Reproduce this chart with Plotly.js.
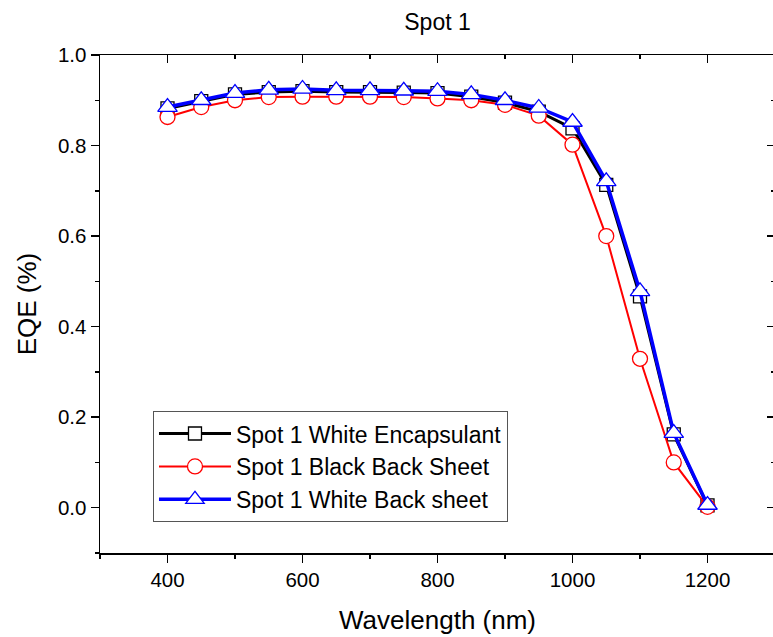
<!DOCTYPE html>
<html>
<head>
<meta charset="utf-8">
<script src="https://cdn.plot.ly/plotly-3.0.1.min.js"></script>
<style>
html,body{margin:0;padding:0;overflow:hidden;background:#fff;}
#chart{width:780px;height:637px;}
</style>
</head>
<body>
<div id="chart"></div>
<script>
const wavelength = [400,450,500,550,600,650,700,750,800,850,900,950,1000,1050,1100,1150,1200];
const whiteEncapsulant = [0.882,0.898,0.913,0.918,0.920,0.918,0.918,0.917,0.916,0.908,0.895,0.875,0.838,0.713,0.467,0.162,0.005];
const blackBackSheet   = [0.863,0.885,0.900,0.907,0.908,0.908,0.908,0.907,0.904,0.900,0.890,0.866,0.802,0.600,0.329,0.100,0.002];
const whiteBackSheet   = [0.885,0.900,0.916,0.923,0.925,0.922,0.922,0.921,0.920,0.913,0.900,0.883,0.852,0.721,0.478,0.165,0.006];
const seriesNames = ['Spot 1 White Encapsulant','Spot 1 Black Back Sheet','Spot 1 White Back sheet'];
const xTicks = [400,600,800,1000,1200];
const yTicks = [0.0,0.2,0.4,0.6,0.8,1.0];
const yTickText = ['0.0','0.2','0.4','0.6','0.8','1.0'];

const font = 'Arial, "Liberation Sans", sans-serif';

const traces = [
  {x: wavelength, y: whiteEncapsulant, name: seriesNames[0], type:'scatter', mode:'lines+markers',
   line:{color:'#000000', width:3}, marker:{symbol:'square', size:13, color:'#ffffff', line:{color:'#000000', width:1.3}}},
  {x: wavelength, y: blackBackSheet, name: seriesNames[1], type:'scatter', mode:'lines+markers',
   line:{color:'#ff0000', width:2}, marker:{symbol:'circle', size:15, color:'#ffffff', line:{color:'#ff0000', width:1.3}}},
  {x: wavelength, y: whiteBackSheet, name: seriesNames[2], type:'scatter', mode:'lines+markers',
   line:{color:'#0000ff', width:3.5}, marker:{symbol:'triangle-up', size:17, color:'#ffffff', line:{color:'#0000ff', width:1.3}}},
  {x: wavelength, y: whiteEncapsulant, xaxis:'x2', yaxis:'y2', type:'scatter', mode:'lines',
   opacity:0, showlegend:false, hoverinfo:'skip'}
];

const common = {showgrid:false, zeroline:false, showline:true, linecolor:'#000', linewidth:1.5, tickcolor:'#000', tickwidth:1.5};

const layout = {
  width:780, height:637,
  margin:{l:100, r:5, t:55, b:84},
  paper_bgcolor:'#fff', plot_bgcolor:'#fff',
  font:{family:font, color:'#000'},
  title:{text:'Spot 1', font:{size:23, family:font, color:'#000'}, x:0.5, xanchor:'center', xref:'paper', y:0.965, yanchor:'middle'},
  xaxis: Object.assign({}, common, {
    range:[300,1300], tickmode:'array', tickvals:xTicks, ticks:'outside', ticklen:8,
    minor:{dtick:100, tick0:300, ticks:'outside', ticklen:4, tickwidth:1.5, tickcolor:'#000'},
    tickfont:{size:20.5, family:font},
    title:{text:'Wavelength (nm)', font:{size:26, family:font}, standoff:20}
  }),
  yaxis: Object.assign({}, common, {
    range:[-0.1,1.0], tickmode:'array', tickvals:yTicks, ticktext:yTickText, ticks:'outside', ticklen:8,
    minor:{dtick:0.1, tick0:-0.1, ticks:'outside', ticklen:4, tickwidth:1.5, tickcolor:'#000'},
    tickfont:{size:20.5, family:font},
    title:{text:'EQE (%)', font:{size:26, family:font}, standoff:14}
  }),
  xaxis2: Object.assign({}, common, {
    overlaying:'x', side:'top', anchor:'y2', range:[300,1300], tickmode:'array', tickvals:xTicks,
    ticks:'inside', ticklen:8, showticklabels:false,
    minor:{dtick:100, tick0:300, ticks:'inside', ticklen:4, tickwidth:1.5, tickcolor:'#000'}
  }),
  yaxis2: Object.assign({}, common, {
    overlaying:'y', side:'right', anchor:'x2', range:[-0.1,1.0], tickmode:'array', tickvals:yTicks,
    ticks:'inside', ticklen:8, showticklabels:false,
    minor:{dtick:0.1, tick0:-0.1, ticks:'inside', ticklen:4, tickwidth:1.5, tickcolor:'#000'}
  }),
  legend:{x:0.0785, y:0.285, xanchor:'left', yanchor:'top', bgcolor:'#fff', bordercolor:'#555', borderwidth:1,
    font:{size:23, family:font, color:'#000'}, tracegroupgap:0, itemwidth:72},
  showlegend:true
};

Plotly.newPlot('chart', traces, layout, {displayModeBar:false, staticPlot:true});
</script>
</body>
</html>
